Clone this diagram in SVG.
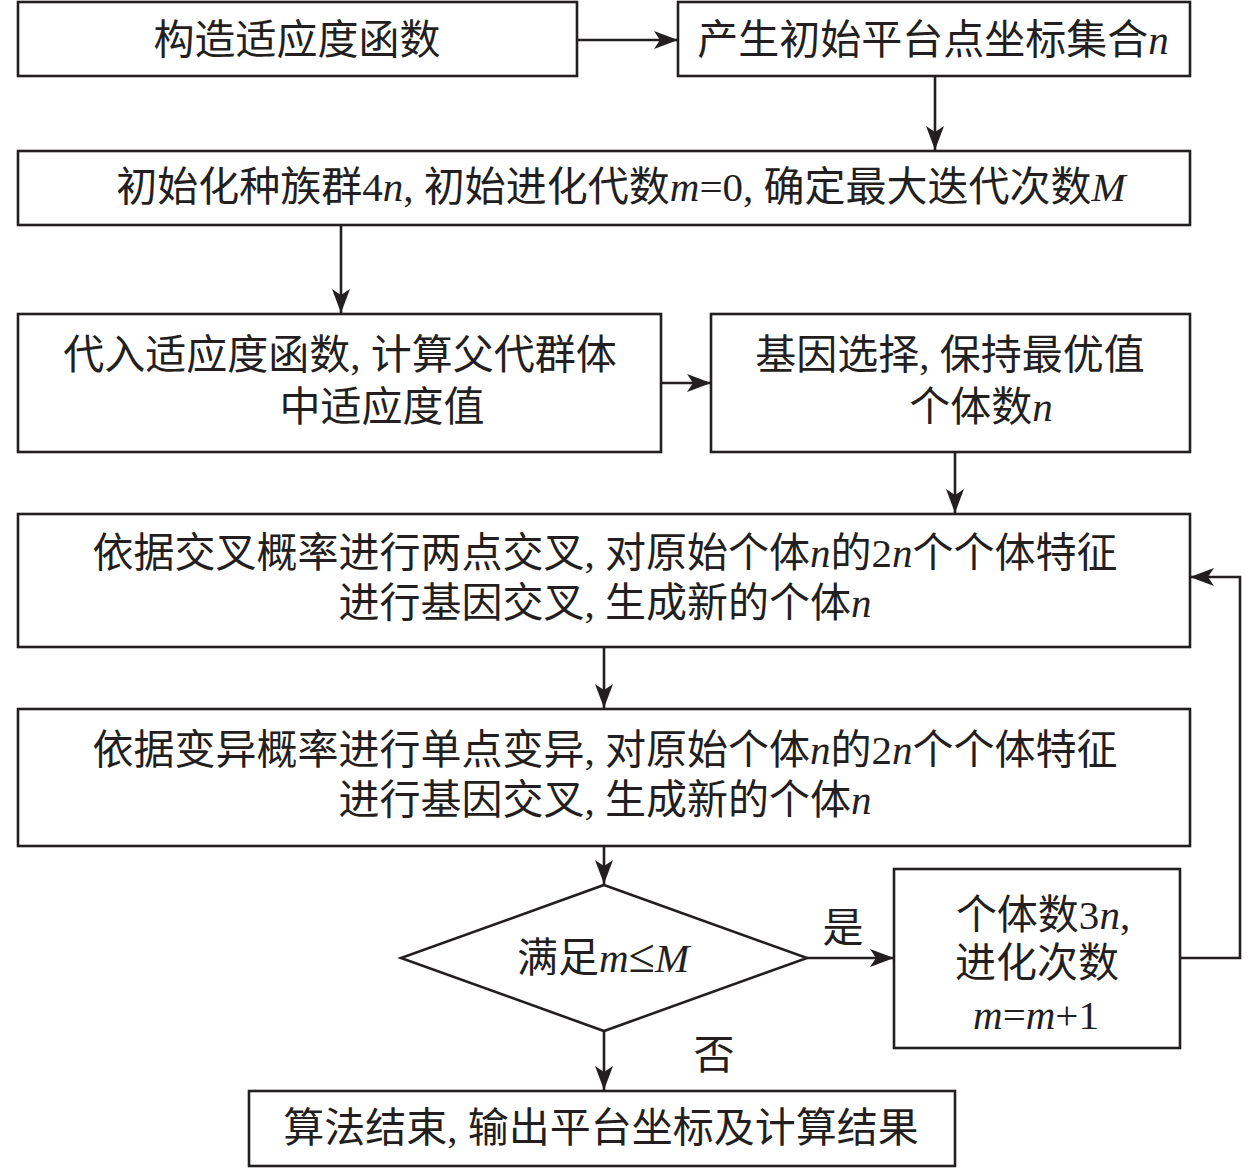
<svg xmlns="http://www.w3.org/2000/svg" width="1259" height="1168" viewBox="0 0 1259 1168">
<style>
.box{fill:#fff;stroke:#231f20;stroke-width:2.6}
.t{font-family:"Liberation Serif","Noto Sans CJK SC",serif;font-size:41px;fill:#231f20;text-anchor:middle}
.i{font-style:italic}
.c{fill:none;stroke:#231f20;stroke-width:2.6}
</style>
<defs>
<marker id="ah" markerUnits="userSpaceOnUse" markerWidth="26" markerHeight="20" refX="24" refY="9" orient="auto">
<path d="M0,0 L24,9 L0,18 L6,9 Z" fill="#231f20"/>
</marker>
</defs>
<rect width="1259" height="1168" fill="#fff"/>
<g id="connectors">
<line class="c" x1="577" y1="40" x2="678" y2="40" marker-end="url(#ah)"/>
<line class="c" x1="935" y1="76" x2="935" y2="150" marker-end="url(#ah)"/>
<line class="c" x1="341" y1="225" x2="341" y2="313" marker-end="url(#ah)"/>
<line class="c" x1="661" y1="383" x2="711" y2="383" marker-end="url(#ah)"/>
<line class="c" x1="955" y1="452" x2="955" y2="513" marker-end="url(#ah)"/>
<line class="c" x1="604" y1="647" x2="604" y2="708" marker-end="url(#ah)"/>
<line class="c" x1="604" y1="846" x2="604" y2="884" marker-end="url(#ah)"/>
<line class="c" x1="807" y1="958" x2="894" y2="958" marker-end="url(#ah)"/>
<polyline class="c" points="1180,958 1240,958 1240,577 1190,577" marker-end="url(#ah)"/>
<line class="c" x1="604" y1="1031" x2="604" y2="1090" marker-end="url(#ah)"/>
<text class="t" x="843" y="942">是</text>
<text class="t" x="714" y="1069">否</text>
</g>
<g id="n1"><rect class="box" x="18" y="2" width="559" height="74"/><text class="t" x="297" y="54">构造适应度函数</text></g>
<g id="n2"><rect class="box" x="678" y="2" width="512" height="74"/><text class="t" x="933" y="54">产生初始平台点坐标集合<tspan class="i">n</tspan></text></g>
<g id="n3"><rect class="box" x="18" y="151" width="1172" height="74"/><text class="t" x="621" y="201">初始化种族群4<tspan class="i">n</tspan>, 初始进化代数<tspan class="i">m</tspan>=0, 确定最大迭代次数<tspan class="i">M</tspan></text></g>
<g id="n4"><rect class="box" x="18" y="314" width="643" height="138"/><text class="t" x="340" y="369">代入适应度函数, 计算父代群体</text><text class="t" x="382" y="421">中适应度值</text></g>
<g id="n5"><rect class="box" x="711" y="314" width="479" height="138"/><text class="t" x="950" y="369">基因选择, 保持最优值</text><text class="t" x="981" y="421">个体数<tspan class="i">n</tspan></text></g>
<g id="n6"><rect class="box" x="18" y="514" width="1172" height="133"/><text class="t" x="605" y="567">依据交叉概率进行两点交叉, 对原始个体<tspan class="i">n</tspan>的2<tspan class="i">n</tspan>个个体特征</text><text class="t" x="605" y="617">进行基因交叉, 生成新的个体<tspan class="i">n</tspan></text></g>
<g id="n7"><rect class="box" x="18" y="709" width="1172" height="137"/><text class="t" x="605" y="764">依据变异概率进行单点变异, 对原始个体<tspan class="i">n</tspan>的2<tspan class="i">n</tspan>个个体特征</text><text class="t" x="605" y="814">进行基因交叉, 生成新的个体<tspan class="i">n</tspan></text></g>
<g id="n8"><polygon class="box" points="604,885 807,958 604,1031 401,958"/><text class="t" x="603" y="972">满足<tspan class="i">m</tspan><tspan font-size="48">≤</tspan><tspan class="i">M</tspan></text></g>
<g id="n9"><rect class="box" x="894" y="869" width="286" height="179"/><text class="t" x="1043" y="929">个体数3<tspan class="i">n</tspan>,</text><text class="t" x="1037" y="977">进化次数</text><text class="t" x="1036" y="1029"><tspan class="i">m</tspan>=<tspan class="i">m</tspan>+1</text></g>
<g id="n10"><rect class="box" x="249" y="1091" width="706" height="75"/><text class="t" x="601" y="1142">算法结束, 输出平台坐标及计算结果</text></g>
</svg>
